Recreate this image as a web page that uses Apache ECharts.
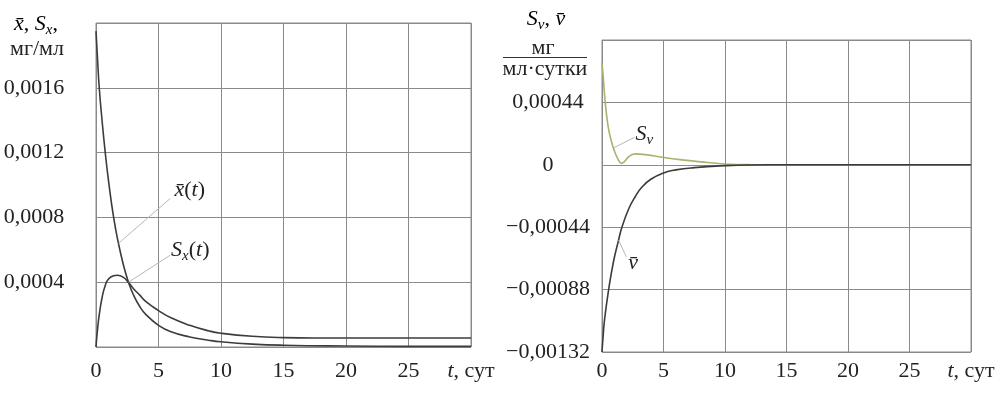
<!DOCTYPE html>
<html>
<head>
<meta charset="utf-8">
<script src="https://cdn.jsdelivr.net/npm/echarts@6/dist/echarts.min.js"></script>
<style>
  html, body { margin: 0; padding: 0; background: #fff; }
  #chart { width: 1000px; height: 393px; }
</style>
</head>
<body>
<div id="chart"></div>
<script>
// left panel: x̄(t) and Sx(t), мг/мл
const tMean = [0, 0.1, 0.26, 0.5, 0.74, 1, 1.41, 1.8, 2.2, 2.6, 3, 3.5, 4, 5, 6, 7.5, 9, 10, 12.5, 15, 20, 25, 30];
const xMean = [0.00195, 0.00181, 0.0016, 0.001386, 0.0012, 0.001027, 0.0008, 0.000638, 0.000505, 0.0004, 0.000321, 0.00025, 0.0002, 0.000134, 0.000094, 0.000062, 0.000042, 0.000032, 0.000018, 0.000011, 0.000006, 0.000004, 0.000004];
const tSx = [0, 0.1, 0.26, 0.5, 0.74, 1, 1.4, 1.7, 2.2, 2.6, 3, 3.5, 4, 5, 6, 7.5, 9, 10, 12.5, 15, 17.5, 20, 25, 30];
const sx = [0, 0.00009, 0.0002, 0.00031, 0.00038, 0.00042, 0.00044, 0.000443, 0.00043, 0.000398, 0.00036, 0.00032, 0.00028, 0.000225, 0.00018, 0.000134, 0.0001, 0.000085, 0.000066, 0.000058, 0.000056, 0.000056, 0.000056, 0.000056];

// right panel: Sv(t) and v̄(t), мг/(мл·сутки)
const tSv = [0, 0.1, 0.25, 0.5, 0.75, 1, 1.3, 1.57, 1.8, 2.2, 2.7, 3.5, 4.9, 6.5, 8.4, 10, 12, 15, 30];
const sv = [0.00072, 0.00062, 0.00045, 0.00027, 0.00017, 0.0001, 0.00004, 0.00001, 0.00002, 0.00006, 0.000077, 0.000072, 0.000053, 0.000035, 0.000018, 0.000006, 0.000001, 0, 0];
const tV = [0, 0.1, 0.21, 0.54, 0.94, 1.3, 1.62, 2.2, 2.7, 3.25, 4, 5, 6, 7.5, 10, 12, 15, 30];
const vMean = [-0.00132, -0.0012, -0.00109, -0.00088, -0.00068, -0.000548, -0.00044, -0.000305, -0.000225, -0.000157, -0.0001, -0.000058, -0.000036, -0.00002, -0.000006, -0.000001, 0, 0];

const FONT = "'Liberation Serif', 'Times New Roman', serif";
const TEXT = '#222';
const GRID_COLOR = '#8a8a8a';
const CURVE = '#3c3c3c';
const SV_COLOR = '#a9b26e';
const LEADER = '#b8b8b8';

const pairs = (t, v) => t.map((x, i) => [x, v[i]]);

const rich = {
  i: { fontFamily: FONT, fontStyle: 'italic', fontSize: 22, color: TEXT },
  r: { fontFamily: FONT, fontSize: 22, color: TEXT },
  sub: { fontFamily: FONT, fontStyle: 'italic', fontSize: 15, color: TEXT, padding: [12, 0, 0, 0] }
};

function xLabel (v) {
  return v === 30 ? '{i|t}, сут' : String(v);
}
function leftY (v) {
  if (v < 1e-9 || v > 0.00199) return '';
  return v.toFixed(4).replace('.', ',');
}
function rightY (v) {
  if (Math.abs(v) < 1e-9) return '0';
  if (v > 0.0008) return '';
  return v.toFixed(5).replace('.', ',').replace('-', '\u2212');
}

function xAxisOf (gridIndex, margin) {
  return {
    gridIndex, type: 'value', min: 0, max: 30, interval: 5,
    axisLine: { show: false, onZero: false },
    axisTick: { show: false },
    splitLine: { show: true, lineStyle: { color: GRID_COLOR, width: 1 } },
    axisLabel: {
      formatter: xLabel, margin, showMaxLabel: true, showMinLabel: true,
      fontFamily: FONT, fontSize: 22, color: TEXT, rich
    }
  };
}

function leader (from, to) {
  return {
    silent: true, symbol: ['none', 'none'], animation: false,
    label: { show: false },
    lineStyle: { color: LEADER, width: 1, type: 'solid' },
    data: [[{ coord: from }, { coord: to }]]
  };
}
function tag (at, text) {
  return {
    silent: true, symbol: 'circle', symbolSize: 0, animation: false,
    label: { show: true, position: 'inside', formatter: text, rich },
    data: [{ coord: at }]
  };
}

const option = {
  backgroundColor: '#fff',
  animation: false,
  grid: [
    { left: 96, top: 23, width: 375, height: 324, show: true, borderColor: GRID_COLOR, borderWidth: 1 },
    { left: 602, top: 40, width: 369, height: 312, show: true, borderColor: GRID_COLOR, borderWidth: 1 }
  ],
  xAxis: [xAxisOf(0, 13), xAxisOf(1, 8)],
  yAxis: [
    {
      gridIndex: 0, type: 'value', min: 0, max: 0.002, interval: 0.0004,
      axisLine: { show: false }, axisTick: { show: false },
      splitLine: { show: true, lineStyle: { color: GRID_COLOR, width: 1 } },
      axisLabel: { formatter: leftY, align: 'center', margin: 62, fontFamily: FONT, fontSize: 22, color: TEXT }
    },
    {
      gridIndex: 1, type: 'value', min: -0.00132, max: 0.00088, interval: 0.00044,
      axisLine: { show: false }, axisTick: { show: false },
      splitLine: { show: true, lineStyle: { color: GRID_COLOR, width: 1 } },
      axisLabel: { formatter: rightY, align: 'center', margin: 54, fontFamily: FONT, fontSize: 22, color: TEXT }
    }
  ],
  series: [
    {
      name: 'x̄(t)', type: 'line', xAxisIndex: 0, yAxisIndex: 0,
      data: pairs(tMean, xMean), showSymbol: false, smooth: 0.5,
      lineStyle: { color: CURVE, width: 1.6 },
      markLine: leader([1.8, 0.00064], [5.94, 0.000917]),
      markPoint: tag([7.5, 0.00097], '{i|x\u0304}{r|(}{i|t}{r|)}')
    },
    {
      name: 'Sx(t)', type: 'line', xAxisIndex: 0, yAxisIndex: 0,
      data: pairs(tSx, sx), showSymbol: false, smooth: 0.5,
      lineStyle: { color: CURVE, width: 1.6 },
      markLine: leader([2.6, 0.0004], [5.94, 0.000567]),
      markPoint: tag([7.54, 0.0006], '{i|S}{sub|x}{r|(}{i|t}{r|)}')
    },
    {
      name: 'Sv', type: 'line', xAxisIndex: 1, yAxisIndex: 1,
      data: pairs(tSv, sv), showSymbol: false, smooth: 0.4,
      lineStyle: { color: SV_COLOR, width: 1.6 },
      markLine: leader([0.94, 0.000119], [2.65, 0.000194]),
      markPoint: tag([3.44, 0.000219], '{i|S}{sub|v}')
    },
    {
      name: 'v̄', type: 'line', xAxisIndex: 1, yAxisIndex: 1,
      data: pairs(tV, vMean), showSymbol: false, smooth: 0.5,
      lineStyle: { color: CURVE, width: 1.6 },
      markLine: leader([1.35, -0.000531], [1.97, -0.000649]),
      markPoint: tag([2.54, -0.000693], '{i|v\u0304}')
    }
  ],
  graphic: [
    // left axis title
    { type: 'text', x: 36, y: 24, style: { text: '{i|x\u0304}{r|, }{i|S}{sub|x}{r|,}', rich, align: 'center', verticalAlign: 'middle' } },
    { type: 'text', x: 37, y: 49, style: { text: 'мг/мл', fontFamily: FONT, fontSize: 22, fill: TEXT, align: 'center', verticalAlign: 'middle' } },
    // right axis title
    { type: 'text', x: 546, y: 19, style: { text: '{i|S}{sub|v}{r|, }{i|v\u0304}', rich, align: 'center', verticalAlign: 'middle' } },
    { type: 'text', x: 543, y: 48, style: { text: 'мг', fontFamily: FONT, fontSize: 22, fill: TEXT, align: 'center', verticalAlign: 'middle' } },
    { type: 'line', shape: { x1: 503, y1: 57.5, x2: 587, y2: 57.5 }, style: { stroke: '#333', lineWidth: 1 } },
    { type: 'text', x: 545, y: 69, style: { text: 'мл·сутки', fontFamily: FONT, fontSize: 22, fill: TEXT, align: 'center', verticalAlign: 'middle' } }
  ]
};

const chart = echarts.init(document.getElementById('chart'));
chart.setOption(option);
</script>
</body>
</html>
